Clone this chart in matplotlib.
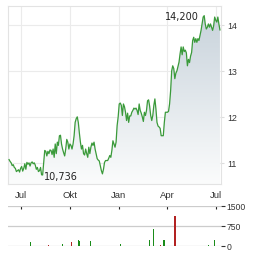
import numpy as np
import pandas as pd
import matplotlib
matplotlib.use("Agg")
from matplotlib import pyplot as plt
import matplotlib.dates as mdates

# Kursverlauf
kurs = [11.07, 11.03, 11.00, 10.94, 10.96, 10.90, 10.88, 10.81, 10.83, 10.85,
        10.80, 10.88, 10.92, 10.82, 10.88, 10.98, 10.86, 11.01, 10.97, 11.00,
        10.93, 11.00, 11.02, 10.98, 11.00, 10.95, 10.86, 10.90, 10.81, 10.83,
        10.90, 10.74, 10.736, 11.01, 11.27, 11.25, 11.15, 11.25, 11.20, 11.28,
        11.27, 11.18, 11.30, 11.12, 11.41, 11.20, 11.45, 11.38, 11.59, 11.60,
        11.41, 11.30, 11.22, 11.15, 11.30, 11.51, 11.45, 11.30, 11.41, 11.38,
        11.30, 11.41, 11.59, 11.88, 11.96, 12.00, 11.88, 11.65, 11.45, 11.30,
        11.38, 11.20, 11.17, 11.30, 11.20, 11.12, 11.34, 11.20, 11.34, 11.43,
        11.38, 11.45, 11.30, 11.20, 11.09, 11.06, 11.04, 10.94, 10.83, 10.76,
        10.86, 11.01, 11.05, 11.05, 11.05, 11.10, 11.16, 11.12, 11.27, 11.48,
        11.41, 11.34, 11.45, 11.81, 12.00, 12.28, 12.30, 12.25, 12.03, 12.28,
        12.22, 12.10, 11.92, 12.08, 11.88, 12.02, 12.02, 12.10, 12.14, 12.19,
        12.17, 12.19, 12.14, 12.05, 12.28, 12.14, 12.08, 12.00, 11.90, 12.10,
        12.03, 12.14, 12.35, 12.37, 12.23, 12.03, 11.92, 12.03, 12.25, 12.39,
        12.17, 11.88, 11.80, 11.78, 11.75, 11.59, 11.59, 11.59, 11.88, 12.10,
        12.10, 12.10, 12.12, 12.28, 12.57, 13.00, 13.11, 13.05, 12.83, 12.95,
        13.00, 13.10, 13.19, 13.37, 13.52, 13.35, 13.52, 13.42, 13.45, 13.39,
        13.11, 13.25, 13.18, 13.32, 13.40, 13.66, 13.73, 13.62, 13.70, 13.62,
        13.70, 13.66, 13.77, 13.88, 14.02, 14.17, 14.20, 14.02, 13.91, 13.95,
        14.02, 13.95, 14.02, 13.95, 13.88, 13.98, 14.17, 14.10, 14.06, 14.17,
        14.02, 13.89]
kurs_start = "2023-06-09"
kurs_ende = "2024-07-09"

# Umsatz
umsatz_datum = ["2023-07-19", "2023-08-22", "2023-09-18", "2023-10-04", "2023-10-17",
                "2023-10-19", "2023-11-09", "2024-01-04", "2024-02-27", "2024-03-06",
                "2024-03-20", "2024-03-26", "2024-04-16", "2024-06-17", "2024-06-28"]
umsatz = [160, 40, 75, 160, 225, 190, 200, 75, 225, 640, 40, 225, 1140, 40, 225]
umsatz_farbe = ["g", "r", "g", "r", "g", "g", "g", "g", "g", "g", "r", "g", "r", "g", "g"]

monate = ["2023-07-01", "2023-10-01", "2024-01-01", "2024-04-01", "2024-07-01"]
monat_labels = ["Jul", "Okt", "Jan", "Apr", "Jul"]
kurs_ticks = [11, 12, 13, 14]
umsatz_ticks = [0, 750, 1500]

datum = pd.date_range(kurs_start, kurs_ende, periods=len(kurs))
x0, x1 = pd.Timestamp("2023-06-07"), pd.Timestamp("2024-07-11")

fig = plt.figure(figsize=(2.64, 2.55), dpi=100)
ax = fig.add_axes([8 / 264, 1 - 185 / 255, 213 / 264, 178 / 255])
av = fig.add_axes([8 / 264, 1 - 247 / 255, 213 / 264, 40 / 255])

y0, y1 = 10.54, 14.41
ax.set_xlim(x0, x1)
ax.set_ylim(y0, y1)

# Verlaufsfüllung unter der Linie
grad = np.linspace(1, 0, 256).reshape(-1, 1)
cmap = matplotlib.colors.LinearSegmentedColormap.from_list("g", ["#fbfcfc", "#c6d1da"])
img = ax.imshow(grad, cmap=cmap, aspect="auto", zorder=1,
                extent=[mdates.date2num(x0), mdates.date2num(x1), y0, y1], origin="upper")
poly = ax.fill_between(datum, kurs, y0, color="none")
img.set_clip_path(poly.get_paths()[0], transform=ax.transData)
ax.plot(datum, kurs, color="#3a9a3a", lw=0.9, zorder=3)

ax.set_xticks(pd.to_datetime(monate))
ax.set_xticklabels(monat_labels)
ax.set_yticks(kurs_ticks)
ax.grid(True, color="#ebebeb", lw=0.8, zorder=0)
ax.set_axisbelow(True)
ax.yaxis.tick_right()
ax.tick_params(axis="x", length=0, pad=4, labelsize=6.8, labelcolor="#333333")
ax.tick_params(axis="y", length=2, color="#dddddd", pad=2.5, labelsize=6.3, labelcolor="#333333")
for s in ax.spines.values():
    s.set_color("#e3e3e3")
    s.set_linewidth(0.8)
for lab in ax.get_xticklabels() + ax.get_yticklabels():
    lab.set_family("Liberation Sans")

# Hoch / Tief beschriften (deutsches Komma)
i_max = int(np.argmax(kurs))
i_min = int(np.argmin(kurs))
ax.annotate("{:.3f}".format(kurs[i_max]).replace(".", ","), (datum[i_max], kurs[i_max]),
            xytext=(-4, 0), textcoords="offset points", ha="right", va="center",
            fontsize=7, color="#222222")
ax.annotate("{:.3f}".format(kurs[i_min]).replace(".", ","), (datum[i_min], kurs[i_min]),
            xytext=(1, -1), textcoords="offset points", ha="left", va="center",
            fontsize=7, color="#222222")

# Umsatz-Chart
farben = {"g": "#1a8c1a", "r": "#b22222"}
breite = [4 if u > 1000 else 2 for u in umsatz]
av.bar(pd.to_datetime(umsatz_datum), umsatz, width=breite,
       color=[farben[f] for f in umsatz_farbe], zorder=3)
av.set_xlim(x0, x1)
av.set_ylim(0, 1500)
av.set_yticks(umsatz_ticks)
av.yaxis.tick_right()
av.grid(axis="y", color="#cccccc", lw=0.9, zorder=0)
av.set_xticks(pd.to_datetime(monate))
av.xaxis.tick_top()
av.tick_params(axis="x", length=2, direction="in", color="#222222", labeltop=False, width=0.8)
av.tick_params(axis="y", length=3, color="#333333", pad=1, labelsize=6.2, labelcolor="#333333")
for lab in av.get_yticklabels():
    lab.set_family("Liberation Sans")
for s in av.spines.values():
    s.set_visible(False)

fig.savefig("out.png", dpi=100)
